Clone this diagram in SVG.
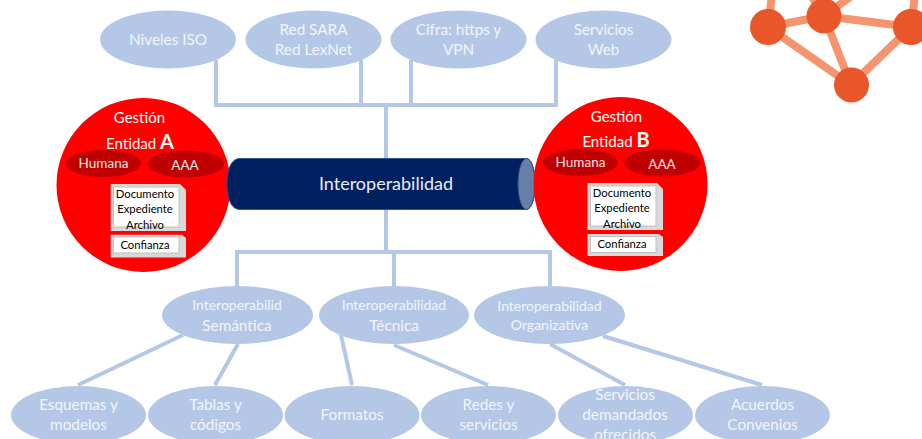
<svg xmlns="http://www.w3.org/2000/svg" width="922" height="439" viewBox="0 0 922 439">
<style>
text{font-family:Lato,"Liberation Sans",sans-serif;text-anchor:middle}
.b{fill:#b4c7e7}
.w{fill:#fff}
.t{font-size:15.3px;fill:#f2f5fb}
.s{font-size:14px;fill:#f2f5fb}
.k{font-size:11.300px;fill:#000}
.h{font-size:13.500px;fill:#f7e4e4}
.r{fill:#f00}
.d{fill:#c00000}
.g{fill:#d9d9d9}
.i{fill:#fff;stroke:#bfbfbf;stroke-width:1}
.c{fill:none;stroke:#b4c7e7;stroke-width:4}
.n{stroke:#f4956f;stroke-width:8;fill:none}
.o{fill:#e8562a}
</style>
<rect width="922" height="439" fill="#fff"/>
<g id="network-graphic">
<path class="n" d="M768 27L772 -5M768 27L824 16M768 27L851 85M824 16L851 85M824 16L911 27M824 16L850 -3M824 16L812 -3M911 27L851 85M911 27L915 -5"/>
<circle class="o" cx="768" cy="27" r="18"/><circle class="o" cx="824" cy="16" r="17.500"/><circle class="o" cx="911" cy="27" r="18"/><circle class="o" cx="851.500" cy="85" r="17.500"/>
</g>
<g id="connectors">
<path class="c" d="M216 60V105H556V60M361 60V105M411 60V105M386 105V158M386 210V252M237 286V252H550V286M394 252V286"/>
<path class="c" d="M183 335L78 385M238 344L215 385M341 335L352 385M394 345L488 385M550 344L625 385M603 336L762 385"/>
</g>
<g id="niveles-iso"><ellipse class="b" cx="168" cy="39.500" rx="68" ry="29"/><text class="t" x="168" y="45">Niveles ISO</text></g>
<g id="red-sara"><ellipse class="b" cx="313.500" cy="39.500" rx="68" ry="29"/><text class="t" x="313.500" y="35">Red SARA</text><text class="t" x="313.500" y="55">Red LexNet</text></g>
<g id="cifra"><ellipse class="b" cx="458.500" cy="39.500" rx="68" ry="29"/><text class="t" x="458.500" y="35">Cifra: https y</text><text class="t" x="458.500" y="55">VPN</text></g>
<g id="servicios-web"><ellipse class="b" cx="603.500" cy="39.500" rx="68" ry="29"/><text class="t" x="603.500" y="35">Servicios</text><text class="t" x="603.500" y="55">Web</text></g>
<g id="entidad-a">
<circle class="r" cx="143.500" cy="185" r="87"/>
<text x="139.500" y="123" font-size="15" fill="#fff">Gestión</text>
<text x="140" y="149" font-size="15" fill="#fff">Entidad <tspan font-size="20" font-weight="700">A</tspan></text>
<ellipse class="d" cx="103.500" cy="163.500" rx="37.500" ry="13.500"/><text class="h" x="103.500" y="168">Humana</text>
<ellipse class="d" cx="186" cy="164" rx="38" ry="13.500"/><text class="h" x="185" y="170">AAA</text>
<path class="g" d="M110.700 184H180L186 190V231H110.700Z"/><rect class="i" x="113.500" y="187" width="65.500" height="40"/>
<text class="k" x="145" y="198">Documento</text><text class="k" x="145" y="213">Expediente</text><text class="k" x="145" y="229">Archivo</text>
<path class="g" d="M110.700 234.700H182L186 238V257.500H110.700Z"/><rect class="i" x="113.500" y="237" width="65.500" height="16"/>
<text class="k" x="145" y="249">Confianza</text>
</g>
<g id="interoperabilidad">
<path d="M240 158.500H526C532 158.500 535 170 535 184S532 209.500 526 209.500H240C231 209.500 227 198 227 184S231 158.500 240 158.500Z" fill="#002060" stroke="#2f528f"/>
<ellipse cx="526.500" cy="184" rx="8.500" ry="25.500" fill="#667fa8" stroke="#2f528f"/>
<text x="386" y="190" font-size="18" fill="#e8ecf4">Interoperabilidad</text>
</g>
<g id="entidad-b">
<circle class="r" cx="620.500" cy="184" r="87"/>
<text x="616.500" y="122" font-size="15" fill="#fff">Gestión</text>
<text x="616" y="147" font-size="15" fill="#fff">Entidad <tspan font-size="20" font-weight="700">B</tspan></text>
<ellipse class="d" cx="580.500" cy="162.500" rx="37.500" ry="13.500"/><text class="h" x="580.500" y="167">Humana</text>
<ellipse class="d" cx="662.500" cy="163" rx="38" ry="13.500"/><text class="h" x="662" y="169">AAA</text>
<path class="g" d="M587.500 183H657L663 189V230H587.500Z"/><rect class="i" x="590.500" y="186" width="65.500" height="40"/>
<text class="k" x="622" y="197">Documento</text><text class="k" x="622" y="212">Expediente</text><text class="k" x="622" y="228">Archivo</text>
<path class="g" d="M587.500 234H659L663 237V256H587.500Z"/><rect class="i" x="590.500" y="236.500" width="65.500" height="16"/>
<text class="k" x="622" y="248">Confianza</text>
</g>
<g id="semantica"><ellipse class="b" cx="237.500" cy="315" rx="75.500" ry="29"/><text class="s" x="237" y="310">Interoperabilid</text><text class="t" x="237" y="331">Semántica</text></g>
<g id="tecnica"><ellipse class="b" cx="394" cy="315" rx="75" ry="29"/><text class="s" x="394" y="310">Interoperabilidad</text><text class="t" x="394" y="331">Técnica</text></g>
<g id="organizativa"><ellipse class="b" cx="549.500" cy="315" rx="75.500" ry="29"/><text class="s" x="549.500" y="311">Interoperabilidad</text><text class="s" x="549.500" y="330">Organizativa</text></g>
<g id="esquemas"><ellipse class="b" cx="78.500" cy="415" rx="67.500" ry="29"/><text class="t" x="78.500" y="410">Esquemas y</text><text class="t" x="78.500" y="430">modelos</text></g>
<g id="tablas"><ellipse class="b" cx="215.500" cy="415" rx="67.500" ry="29"/><text class="t" x="215.500" y="410">Tablas y</text><text class="t" x="215.500" y="430">códigos</text></g>
<g id="formatos"><ellipse class="b" cx="352" cy="415" rx="67.500" ry="29"/><text class="t" x="352" y="420">Formatos</text></g>
<g id="redes"><ellipse class="b" cx="488.500" cy="415" rx="67.500" ry="29"/><text class="t" x="488.500" y="410">Redes y</text><text class="t" x="488.500" y="430">servicios</text></g>
<g id="servicios-demandados"><ellipse class="b" cx="625.500" cy="415" rx="67.500" ry="29"/><text class="t" x="625" y="400">Servicios</text><text class="t" x="625" y="420">demandados</text><text class="t" x="625" y="440">ofrecidos</text></g>
<g id="acuerdos"><ellipse class="b" cx="762.500" cy="415" rx="67.500" ry="29"/><text class="t" x="762.500" y="410">Acuerdos</text><text class="t" x="762.500" y="430">Convenios</text></g>
</svg>
